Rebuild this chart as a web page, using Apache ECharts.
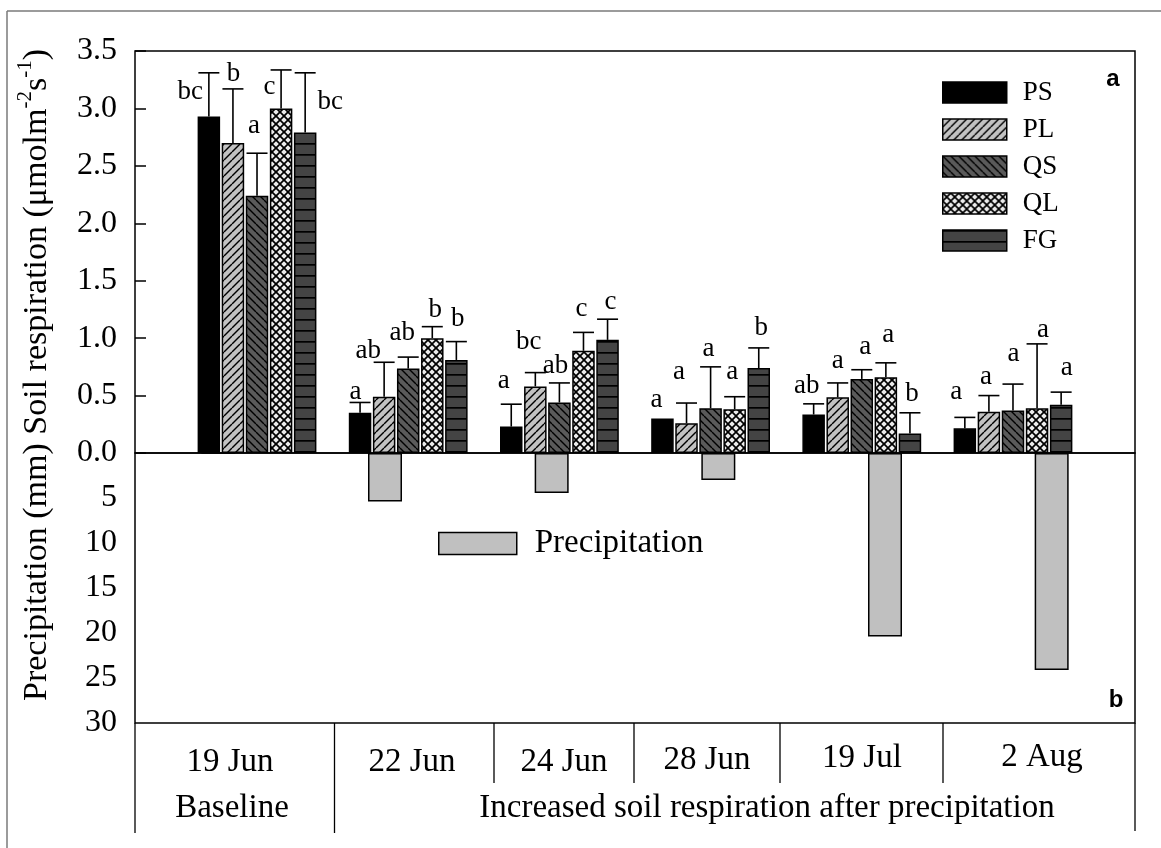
<!DOCTYPE html>
<html>
<head>
<meta charset="utf-8">
<script src="https://cdn.jsdelivr.net/npm/echarts@6/dist/echarts.min.js"></script>
<style>
html,body{margin:0;padding:0;background:#fff;}
#chart{width:1161px;height:848px;}
</style>
</head>
<body>
<div id="chart"></div>
<script>
// ---------- data ----------
const dates = ['19 Jun', '22 Jun', '24 Jun', '28 Jun', '19 Jul', '2 Aug'];
const periods = ['Baseline', 'Increased soil respiration after precipitation'];
const treatments = ['PS', 'PL', 'QS', 'QL', 'FG'];

// soil respiration means (µmol m-2 s-1)
const PS = [2.93, 0.35, 0.23, 0.30, 0.335, 0.215];
const PL = [2.70, 0.49, 0.58, 0.26, 0.485, 0.36];
const QS = [2.24, 0.735, 0.44, 0.39, 0.645, 0.37];
const QL = [3.00, 1.00, 0.89, 0.38, 0.66, 0.39];
const FG = [2.79, 0.81, 0.985, 0.74, 0.17, 0.42];

// standard deviations (one-sided error bars)
const PS_sd = [0.38, 0.09, 0.195, 0, 0.093, 0.095];
const PL_sd = [0.47, 0.30, 0.12, 0.175, 0.125, 0.14];
const QS_sd = [0.37, 0.10, 0.17, 0.36, 0.08, 0.23];
const QL_sd = [0.335, 0.10, 0.16, 0.11, 0.125, 0.56];
const FG_sd = [0.52, 0.16, 0.18, 0.175, 0.18, 0.11];

// significance letters
const PS_sig = ['bc', 'a', 'a', 'a', 'ab', 'a'];
const PL_sig = ['b', 'ab', 'bc', 'a', 'a', 'a'];
const QS_sig = ['a', 'ab', 'ab', 'a', 'a', 'a'];
const QL_sig = ['c', 'b', 'c', 'a', 'a', 'a'];
const FG_sig = ['bc', 'b', 'c', 'b', 'b', 'a'];

// precipitation (mm)
const precipitation = [0, 5.4, 4.45, 3.0, 20.4, 24.1];

// axis ticks
const respTicks = { min: 0, max: 3.5, interval: 0.5 };
const precTicks = { min: 0, max: 30, interval: 5 };

// ---------- layout (pixel offsets of letters from error-bar tip) ----------
const letterDX = [
  [-18.5, -4.5, -7.5, -6, -7, -8.5],
  [0.5, -16, -6.5, -7.5, 0, -3],
  [-3, -6, -4, -2, 3.5, 0.5],
  [-11.5, 3, -2, -2.5, 2.5, 6],
  [25, 1.5, 3, 2.5, 2, 5.5]
];
const letterDY = [
  [27.7, -1.6, -14.3, -9.3, -9.3, -16],
  [-5.7, -2.7, -22, -22.3, -12.6, -9.3],
  [-18.3, -15.4, -8.3, -9.4, -14.3, -21.6],
  [26, -7.4, -14.4, -16, -19, -5.3],
  [38.4, -14, -8.3, -11, -10, -15.4]
];

const means = [PS, PL, QS, QL, FG];
const sds = [PS_sd, PL_sd, QS_sd, QL_sd, FG_sd];
const sigs = [PS_sig, PL_sig, QS_sig, QL_sig, FG_sig];

const SERIF = '"Liberation Serif", "Times New Roman", serif';
const BAR_W = 22.5;
const BAR_GAP = 0.07;
const PITCH = BAR_W * (1 + BAR_GAP);
const CAP = 21;

function pattern(kind) {
  const c = document.createElement('canvas');
  let s = 8;
  if (kind === 'fg') s = 11;
  c.width = s; c.height = s;
  const g = c.getContext('2d');
  g.strokeStyle = '#000';
  if (kind === 'pl') {
    g.fillStyle = '#c2c2c2'; g.fillRect(0, 0, s, s);
    g.lineWidth = 1.4;
    for (const o of [-s, 0, s]) { g.beginPath(); g.moveTo(o, s); g.lineTo(o + s, 0); g.stroke(); }
  } else if (kind === 'qs') {
    g.fillStyle = '#5a5a5a'; g.fillRect(0, 0, s, s);
    g.lineWidth = 1.4;
    for (const o of [-s, 0, s]) { g.beginPath(); g.moveTo(o, 0); g.lineTo(o + s, s); g.stroke(); }
  } else if (kind === 'ql') {
    g.fillStyle = '#ececec'; g.fillRect(0, 0, s, s);
    g.lineWidth = 1.7;
    for (const o of [-s, 0, s]) {
      g.beginPath(); g.moveTo(o, s); g.lineTo(o + s, 0); g.stroke();
      g.beginPath(); g.moveTo(o, 0); g.lineTo(o + s, s); g.stroke();
    }
  } else if (kind === 'fg') {
    g.fillStyle = '#444444'; g.fillRect(0, 0, s, s);
    g.fillStyle = '#000'; g.fillRect(0, 0, s, 1.7);
  }
  return { image: c, repeat: 'repeat' };
}
const fills = ['#000000', pattern('pl'), pattern('qs'), pattern('ql'), pattern('fg')];

const chart = echarts.init(document.getElementById('chart'), null, { renderer: 'canvas' });

const xPos = dates.map((d, i) => i + 1);

const barSeries = treatments.map((name, t) => ({
  name: name,
  type: 'bar',
  xAxisIndex: 0, yAxisIndex: 0,
  barWidth: BAR_W,
  barGap: (BAR_GAP * 100) + '%',
  data: means[t].map((v, i) => [xPos[i], v]),
  itemStyle: { color: fills[t], borderColor: '#000', borderWidth: 1.5 },
  emphasis: { disabled: true },
  z: 2
}));

const errData = [];
treatments.forEach((n, t) => dates.forEach((d, i) => errData.push([xPos[i], t])));

const errSeries = {
  type: 'custom',
  xAxisIndex: 0, yAxisIndex: 0,
  data: errData,
  z: 5,
  silent: true,
  renderItem: function (params, api) {
    const x = api.value(0), t = api.value(1), c = x - 1;
    const m = means[t][c], s = sds[t][c];
    const base = api.coord([x, m]);
    const top = api.coord([x, m + s]);
    const cx = base[0] + (t - 2) * PITCH;
    const kids = [];
    if (s > 0) {
      kids.push({ type: 'line', shape: { x1: cx, y1: base[1], x2: cx, y2: top[1] }, style: { stroke: '#000', lineWidth: 1.6 } });
      kids.push({ type: 'line', shape: { x1: cx - CAP / 2, y1: top[1], x2: cx + CAP / 2, y2: top[1] }, style: { stroke: '#000', lineWidth: 1.6 } });
    }
    kids.push({
      type: 'text',
      x: cx + letterDX[t][c],
      y: top[1] + letterDY[t][c] - 9,
      style: { text: sigs[t][c], font: '27px ' + SERIF, fill: '#000', align: 'center', verticalAlign: 'middle' }
    });
    return { type: 'group', children: kids };
  }
};

const precSeries = {
  name: 'Precipitation',
  type: 'bar',
  xAxisIndex: 1, yAxisIndex: 1,
  barWidth: 34,
  data: precipitation,
  itemStyle: { color: '#c0c0c0', borderColor: '#000', borderWidth: 1.5 },
  emphasis: { disabled: true }
};

const yLabel = { color: '#000', fontSize: 32, fontFamily: SERIF, margin: 18 };
const yTick = { inside: true, length: 11, lineStyle: { color: '#000', width: 1.5 } };

// bottom table texts
const dateX = [230, 412, 564, 707, 862, 1042];
const dateY = [762, 762, 762, 760, 758, 757];
const graphics = [];
dates.forEach((d, i) => graphics.push({
  type: 'text', x: dateX[i], y: dateY[i],
  style: { text: d, font: '33px ' + SERIF, fill: '#000', align: 'center', verticalAlign: 'middle' }
}));
graphics.push({ type: 'text', x: 232, y: 808, style: { text: periods[0], font: '33px ' + SERIF, fill: '#000', align: 'center', verticalAlign: 'middle' } });
graphics.push({ type: 'text', x: 767, y: 808, style: { text: periods[1], font: '33px ' + SERIF, fill: '#000', align: 'center', verticalAlign: 'middle' } });
// table lines
const lineStyle = { stroke: '#000', lineWidth: 1.3 };
graphics.push({ type: 'line', shape: { x1: 135, y1: 723, x2: 135, y2: 833 }, style: lineStyle });
graphics.push({ type: 'line', shape: { x1: 1135, y1: 723, x2: 1135, y2: 831 }, style: lineStyle });
graphics.push({ type: 'line', shape: { x1: 334.5, y1: 723, x2: 334.5, y2: 833 }, style: lineStyle });
[494, 634, 780, 943].forEach(x => graphics.push({ type: 'line', shape: { x1: x, y1: 723, x2: x, y2: 783 }, style: lineStyle }));
// outer border (top & left)
graphics.push({ type: 'line', shape: { x1: 7, y1: 11, x2: 1161, y2: 11 }, style: { stroke: '#7a7a7a', lineWidth: 1.5 } });
graphics.push({ type: 'line', shape: { x1: 7, y1: 11, x2: 7, y2: 848 }, style: { stroke: '#7a7a7a', lineWidth: 1.5 } });
// panel letters
graphics.push({ type: 'text', x: 1113, y: 79, style: { text: 'a', font: 'bold 24px "Liberation Sans", Arial, sans-serif', fill: '#000', align: 'center', verticalAlign: 'middle' } });
graphics.push({ type: 'text', x: 1116, y: 700, style: { text: 'b', font: 'bold 24px "Liberation Sans", Arial, sans-serif', fill: '#000', align: 'center', verticalAlign: 'middle' } });
// y-axis title
graphics.push({
  type: 'text', x: 37, y: 375, rotation: Math.PI / 2,
  style: {
    text: '{n|Precipitation (mm) Soil respiration (μmolm}{s|-2}{n|s}{s|-1}{n|)}',
    align: 'center', verticalAlign: 'middle',
    rich: {
      n: { fontSize: 34, fontFamily: SERIF, fill: '#000', lineHeight: 44 },
      s: { fontSize: 21, fontFamily: SERIF, fill: '#000', verticalAlign: 'top', lineHeight: 26 }
    }
  }
});

const option = {
  backgroundColor: '#fff',
  animation: false,
  grid: [
    { left: 135, top: 51, width: 1000, height: 402, show: true, borderColor: '#000', borderWidth: 1.5, backgroundColor: 'transparent' },
    { left: 135, top: 453, width: 1000, height: 270, show: true, borderColor: '#000', borderWidth: 1.5, backgroundColor: 'transparent' }
  ],
  xAxis: [
    { type: 'value', gridIndex: 0, min: 0.193, max: 6.807, show: false },
    { type: 'category', gridIndex: 1, data: dates, show: false, boundaryGap: true }
  ],
  yAxis: [
    {
      type: 'value', gridIndex: 0, min: respTicks.min, max: respTicks.max, interval: respTicks.interval,
      axisLine: { show: false }, axisTick: yTick, splitLine: { show: false },
      axisLabel: Object.assign({ formatter: v => v.toFixed(1) }, yLabel)
    },
    {
      type: 'value', gridIndex: 1, inverse: true, min: precTicks.min, max: precTicks.max, interval: precTicks.interval,
      axisLine: { show: false }, axisTick: yTick, splitLine: { show: false },
      axisLabel: Object.assign({ formatter: v => (v === 0 ? '' : String(v)) }, yLabel)
    }
  ],
  legend: [
    {
      data: treatments, orient: 'vertical', left: 942, top: 79, padding: 0,
      itemWidth: 64, itemHeight: 21, itemGap: 10, selectedMode: false, icon: 'rect',
      itemStyle: { borderColor: '#000', borderWidth: 1.5 },
      textStyle: { color: '#000', fontSize: 27, fontFamily: SERIF, padding: [0, 0, 0, 11] }
    },
    {
      data: ['Precipitation'], left: 438, top: 527, padding: 0,
      itemWidth: 78, itemHeight: 22, selectedMode: false, icon: 'rect',
      itemStyle: { borderColor: '#000', borderWidth: 1.5 },
      textStyle: { color: '#000', fontSize: 33, fontFamily: SERIF, padding: [0, 0, 0, 13] }
    }
  ],
  graphic: graphics,
  series: barSeries.concat([precSeries, errSeries])
};
chart.setOption(option);
</script>
</body>
</html>
